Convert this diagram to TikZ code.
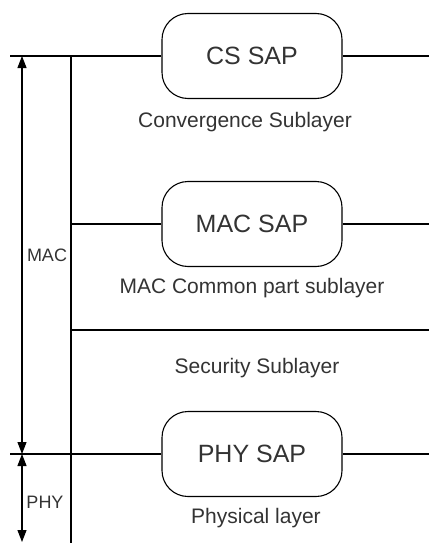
\documentclass[tikz,border=0pt]{standalone}
\usepackage{fontspec}
\setmainfont{Liberation Sans}
\usetikzlibrary{positioning,arrows.meta}

\begin{document}
\begin{tikzpicture}[x=1pt, y=-1pt, >={Triangle[width=9pt,length=12pt]}, line width=1.1pt]
    \tikzstyle{sap}=[rectangle, draw, rounded corners=26pt, minimum width=180pt, minimum height=85pt, font=\fontsize{25}{28}\selectfont, text=black!80]
    \tikzstyle{layer}=[font=\fontsize{21}{24}\selectfont, text=black!80]
    \tikzstyle{side}=[font=\fontsize{18}{20}\selectfont, text=black!80, inner sep=1pt]
    \useasboundingbox (0,0) rectangle (429,543);

    % service access points
    \node[sap] (cs) at (252,56) {CS SAP};
    \node[sap] (mac) at (252,224) {MAC SAP};
    \node[sap] (phy) at (252,454) {PHY SAP};

    % sublayer names
    \node[layer] (cstext) at (245,122) {Convergence Sublayer};
    \node[layer] (mactext) at (252,288) {MAC Common part sublayer};
    \node[layer] (sectext) at (257,368) {Security Sublayer};
    \node[layer] (phytext) at (256,518) {Physical layer};

    % ends of the layer lines
    \coordinate (topL) at (10,56);
    \coordinate (topR) at (429,56);
    \coordinate (macL) at (71,224);
    \coordinate (macR) at (429,224);
    \coordinate (secL) at (71,330);
    \coordinate (secR) at (429,330);
    \coordinate (phyL) at (10,454);
    \coordinate (phyR) at (429,454);
    \coordinate (barT) at (71,56);
    \coordinate (barB) at (71,543);

    \draw (topL) -- (cs);
    \draw (cs) -- (topR);
    \draw (macL) -- (mac);
    \draw (mac) -- (macR);
    \draw (secL) -- (secR);
    \draw (phyL) -- (phy);
    \draw (phy) -- (phyR);
    \draw (barT) -- (barB);

    % extent of MAC and PHY
    \coordinate (arrT) at (22,56);
    \coordinate (arrM) at (22,454);
    \coordinate (arrB) at (22,542);
    \draw[<->] (arrT) -- (arrM);
    \draw[<->] (arrM) -- (arrB);
    \node[side] (maclabel) at (47,255) {MAC};
    \node[side] (phylabel) at (45,502) {PHY};
\end{tikzpicture}
\end{document}
